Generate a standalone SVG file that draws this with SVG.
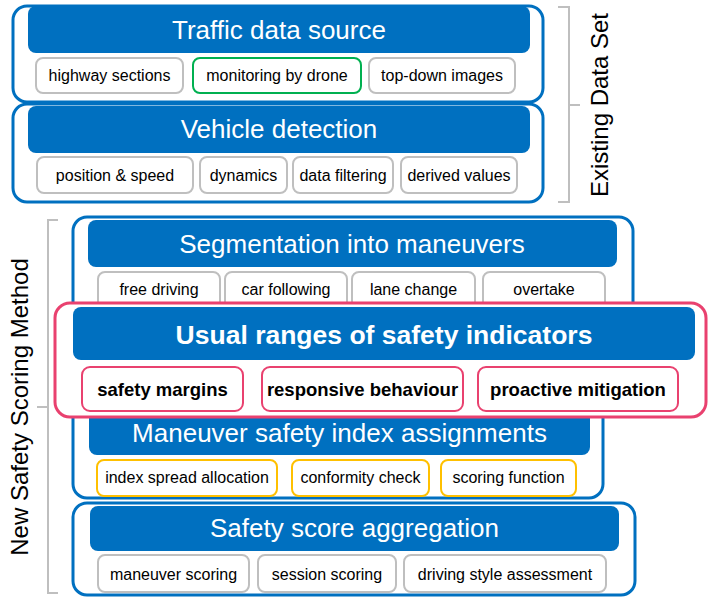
<svg xmlns="http://www.w3.org/2000/svg" width="708" height="597" viewBox="0 0 708 597">
<defs>
<style>
.cont{fill:#fff;stroke:#0070C0;stroke-width:3}
.pinkc{fill:#fff;stroke:#E9416F;stroke-width:3}
.hdr{fill:#0070C0}
.sub{fill:#fff;stroke:#BFBFBF;stroke-width:2}
.subg{fill:#fff;stroke:#00B050;stroke-width:2}
.suby{fill:#fff;stroke:#FFC000;stroke-width:2}
.subp{fill:#fff;stroke:#E9416F;stroke-width:2}
.ht{font-family:"Liberation Sans",Arial,sans-serif;font-size:26px;fill:#fff;text-anchor:middle}
.htb{font-family:"Liberation Sans",Arial,sans-serif;font-size:26.5px;font-weight:bold;fill:#fff;text-anchor:middle}
.st{font-family:"Liberation Sans",Arial,sans-serif;font-size:16px;fill:#000;text-anchor:middle}
.stb{font-family:"Liberation Sans",Arial,sans-serif;font-size:18.5px;font-weight:bold;fill:#000;text-anchor:middle}
.side{font-family:"Liberation Sans",Arial,sans-serif;font-size:24px;fill:#000;text-anchor:middle}
.br{fill:none;stroke:#BFBFBF;stroke-width:2}
</style>
</defs>

<g id="traffic-data-source">
<rect class="cont" x="13" y="6" width="530" height="96" rx="14"/>
<rect class="hdr" x="28" y="6" width="502" height="47" rx="8"/>
<text class="ht" x="279" y="39">Traffic data source</text>
<rect class="sub" x="36" y="58" width="147" height="35" rx="7"/>
<text class="st" x="109.5" y="81">highway sections</text>
<rect class="subg" x="193" y="58" width="168" height="35" rx="7"/>
<text class="st" x="277" y="81">monitoring by drone</text>
<rect class="sub" x="369" y="58" width="146" height="35" rx="7"/>
<text class="st" x="442" y="81">top-down images</text>
</g>

<g id="vehicle-detection">
<rect class="cont" x="13" y="104" width="530" height="98" rx="14"/>
<rect class="hdr" x="28" y="106" width="502" height="47" rx="8"/>
<text class="ht" x="279" y="138">Vehicle detection</text>
<rect class="sub" x="37" y="157" width="156" height="36" rx="7"/>
<text class="st" x="115" y="181">position &amp; speed</text>
<rect class="sub" x="200" y="157" width="87" height="36" rx="7"/>
<text class="st" x="243.5" y="181">dynamics</text>
<rect class="sub" x="293" y="157" width="100" height="36" rx="7"/>
<text class="st" x="343" y="181">data filtering</text>
<rect class="sub" x="401" y="157" width="116" height="36" rx="7"/>
<text class="st" x="459" y="181">derived values</text>
</g>

<g id="segmentation">
<rect class="cont" x="73" y="217" width="560" height="110" rx="14"/>
<rect class="hdr" x="88" y="220" width="529" height="47" rx="8"/>
<text class="ht" x="352" y="253">Segmentation into maneuvers</text>
<rect class="sub" x="98" y="272" width="122" height="40" rx="7"/>
<text class="st" x="159" y="295">free driving</text>
<rect class="sub" x="225" y="272" width="122" height="40" rx="7"/>
<text class="st" x="286" y="295">car following</text>
<rect class="sub" x="352" y="272" width="123" height="40" rx="7"/>
<text class="st" x="413.5" y="295">lane change</text>
<rect class="sub" x="483" y="272" width="122" height="40" rx="7"/>
<text class="st" x="544" y="295">overtake</text>
</g>

<g id="maneuver-safety-index">
<rect class="cont" x="73" y="380" width="530" height="118" rx="14"/>
<rect class="hdr" x="89" y="400" width="501" height="55" rx="8"/>
<text class="ht" x="339.5" y="442">Maneuver safety index assignments</text>
<rect class="suby" x="97" y="460" width="180" height="36" rx="7"/>
<text class="st" x="187" y="483">index spread allocation</text>
<rect class="suby" x="292" y="460" width="137" height="36" rx="7"/>
<text class="st" x="360.5" y="483">conformity check</text>
<rect class="suby" x="441" y="460" width="135" height="36" rx="7"/>
<text class="st" x="508.5" y="483">scoring function</text>
</g>

<g id="safety-score-aggregation">
<rect class="cont" x="73" y="503" width="562" height="92" rx="14"/>
<rect class="hdr" x="90" y="506" width="529" height="45" rx="8"/>
<text class="ht" x="354.5" y="537">Safety score aggregation</text>
<rect class="sub" x="98" y="555" width="151" height="37" rx="7"/>
<text class="st" x="173.5" y="580">maneuver scoring</text>
<rect class="sub" x="258" y="555" width="138" height="37" rx="7"/>
<text class="st" x="327" y="580">session scoring</text>
<rect class="sub" x="404" y="555" width="202" height="37" rx="7"/>
<text class="st" x="505" y="580">driving style assessment</text>
</g>

<g id="usual-ranges">
<rect class="pinkc" x="55" y="303" width="651" height="114" rx="15"/>
<rect class="hdr" x="73" y="307" width="622" height="53" rx="8"/>
<text class="htb" x="384" y="344">Usual ranges of safety indicators</text>
<rect class="subp" x="82" y="367" width="161" height="44" rx="8"/>
<text class="stb" x="162.5" y="396">safety margins</text>
<rect class="subp" x="262" y="367" width="201" height="44" rx="8"/>
<text class="stb" x="362.5" y="396">responsive behaviour</text>
<rect class="subp" x="478" y="367" width="200" height="44" rx="8"/>
<text class="stb" x="578" y="396">proactive mitigation</text>
</g>

<g id="existing-data-set">
<path class="br" d="M558,7 H569 V202 H558 M569,105 H580"/>
<text class="side" transform="translate(608,105) rotate(-90)">Existing Data Set</text>
</g>

<g id="new-safety-scoring-method">
<path class="br" d="M58,220 H48 V593 H58 M48,407 H37"/>
<text class="side" transform="translate(28,407) rotate(-90)">New Safety Scoring Method</text>
</g>
</svg>
